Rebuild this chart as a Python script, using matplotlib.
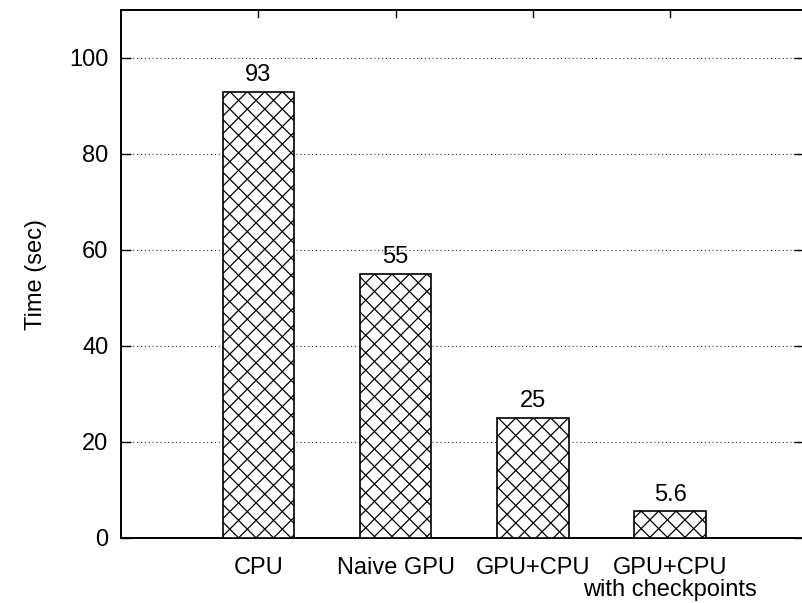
import matplotlib
matplotlib.use("Agg")
import numpy as np
import matplotlib.pyplot as plt
from matplotlib.collections import LineCollection
from matplotlib.transforms import IdentityTransform

plt.rcParams['font.family'] = ['Liberation Sans', 'DejaVu Sans']

categories = ["CPU", "Naive GPU", "GPU+CPU", "GPU+CPU\nwith checkpoints"]
times = [93, 55, 25, 5.6]
value_labels = ["93", "55", "25", "5.6"]
yticks = [0, 20, 40, 60, 80, 100]

FS = 17

fig = plt.figure(figsize=(8.02, 6.03), dpi=100)
ax = fig.add_axes([121 / 802, 1 - 538 / 603, 683 / 802, 528 / 603])

positions = list(range(1, len(categories) + 1))
ax.set_xlim(0, 4.975)
ax.set_ylim(0, 110)

bars = ax.bar(positions, times, width=0.52, facecolor="white", edgecolor="black",
              linewidth=1.2, zorder=3)

# crosshatch drawn as 45-degree lines in pixel space, clipped to each bar
spacing = 17.5
L = 2000.0
for rect in bars:
    (x0, y0), (x1, y1) = ax.transData.transform(
        [(rect.get_x(), rect.get_y()),
         (rect.get_x() + rect.get_width(), rect.get_y() + rect.get_height())])
    span = (x1 - x0) + (y1 - y0)
    segs = []
    for c in np.arange(-span - spacing, span + spacing, spacing):
        segs.append([(x0 + c - L, y1 - L), (x0 + c + L, y1 + L)])
        segs.append([(x0 + c - L, y1 + L), (x0 + c + L, y1 - L)])
    lc = LineCollection(segs, colors="black", linewidths=0.9,
                        transform=IdentityTransform(), zorder=3.5)
    ax.add_collection(lc, autolim=False)
    lc.set_clip_path(rect)

for x, v, lab in zip(positions, times, value_labels):
    ax.text(x, v + 2.2, lab, ha="center", va="baseline", fontsize=FS)

ax.set_yticks(yticks)
ax.set_yticklabels([str(t) for t in yticks], fontsize=FS)
ax.set_ylabel("Time (sec)", fontsize=FS, labelpad=16)

for t in yticks[1:]:
    ax.axhline(t, color="#333333", linestyle=(0, (1, 2.5)), linewidth=0.8, zorder=1)

ax.tick_params(axis="y", direction="in", length=7, width=1, right=True, pad=9)
ax.set_xticks(positions)
ax.set_xticklabels(categories, fontsize=FS, linespacing=1.0)
ax.tick_params(axis="x", which="both", bottom=False, top=False, pad=10)

# category ticks along the top edge
for x in positions:
    ax.plot([x, x], [110, 110 - 1.5], color="black", linewidth=1, zorder=4, clip_on=False)

for s in ax.spines.values():
    s.set_linewidth(1.4)

fig.savefig("out.png", dpi=100)
